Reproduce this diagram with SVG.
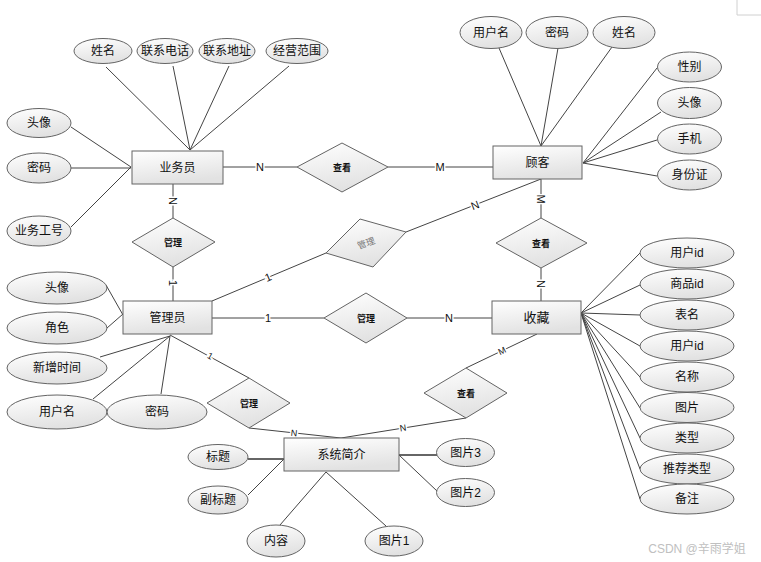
<svg xmlns="http://www.w3.org/2000/svg" width="761" height="562" viewBox="0 0 761 562">
<defs>
<linearGradient id="g" x1="0" y1="0" x2="0.3" y2="1">
<stop offset="0" stop-color="#ffffff"/>
<stop offset="1" stop-color="#e2e2e2"/>
</linearGradient>
</defs>
<style>
.sh{fill:url(#g);stroke:#646464;stroke-width:1}
.ln{stroke:#444;stroke-width:1;fill:none}
.t{font-family:"Liberation Sans","Noto Sans CJK SC",sans-serif;font-size:12px;fill:#111;text-anchor:middle;dominant-baseline:central}
.d{font-family:"Noto Sans CJK SC",sans-serif;font-size:9px;font-weight:bold;fill:#111;text-anchor:middle;dominant-baseline:central}
.c{font-family:"Liberation Sans",sans-serif;font-size:11px;fill:#111;text-anchor:middle;dominant-baseline:central;stroke:#fff;stroke-width:3;paint-order:stroke}
</style>
<rect width="761" height="562" fill="#fff"/>
<path d="M737,0V15H761" fill="none" stroke="#d0d0d0"/>
<g id="connectors">
<path class="ln" d="M106,67L190,150M173,66L190,150M229,66L190,150M289,66L190,150"/>
<path class="ln" d="M71,127L131,167M71,168H131M71,227L131,167"/>
<path class="ln" d="M499,48L541,146M558,48L541,146M612,47L541,146"/>
<path class="ln" d="M657,68L583,163M661,112L583,163M657,140L583,163M657,176L583,163"/>
<path class="ln" d="M106,285L123,315M107,328L123,314M100,357L170,336M93,399L170,336M161,394L170,336"/>
<path class="ln" d="M640,253L581,313M640,285L581,313M640,315L581,313M640,346L581,313M640,377L581,313M640,408L581,313M640,438L581,313M640,469L581,313M640,499L581,313"/>
<path d="M248,459H284M399,455H437" stroke="#666" stroke-width="2" fill="none"/>
<path class="ln" d="M248,495L284,459M280,525L326,472M386,526L326,472M437,491L399,455"/>
<path class="ln" d="M223,167H297M388,167H493"/>
<path class="ln" d="M173,184V218M173,267V301"/>
<path class="ln" d="M212,301L326,253M406,232L541,179"/>
<path class="ln" d="M541,179V218M541,268V301"/>
<path class="ln" d="M212,318H324M407,318H492"/>
<path class="ln" d="M537,334L466,368M466,418L341,438"/>
<path class="ln" d="M170,335L249,378M249,428L341,438"/>
<text class="c" x="260" y="167">N</text>
<text class="c" x="440" y="167">M</text>
<text class="c" transform="translate(173,201) rotate(90)">N</text>
<text class="c" transform="translate(173,283) rotate(90)">1</text>
<text class="c" transform="translate(268,277) rotate(-23)">1</text>
<text class="c" transform="translate(475,205) rotate(-21)">N</text>
<text class="c" transform="translate(541,199) rotate(90)">M</text>
<text class="c" transform="translate(541,284) rotate(90)">N</text>
<text class="c" x="268" y="318">1</text>
<text class="c" x="449" y="318">N</text>
<text class="c" transform="translate(502,351) rotate(-26)" style="font-size:9px">M</text>
<text class="c" transform="translate(403,428) rotate(-9)" style="font-size:9px">N</text>
<text class="c" transform="translate(210,356) rotate(28)" style="font-size:9px">1</text>
<text class="c" transform="translate(294,433) rotate(6)" style="font-size:9px">N</text>
</g>
<g id="yewuyuan"><rect class="sh" x="132" y="151" width="91" height="33"/><text class="t" x="177.5" y="167.5">业务员</text></g>
<g id="guke"><rect class="sh" x="493" y="146" width="89" height="33"/><text class="t" x="537.5" y="162.5">顾客</text></g>
<g id="guanliyuan"><rect class="sh" x="123" y="301" width="89" height="33"/><text class="t" x="167.5" y="317.5">管理员</text></g>
<g id="shoucang"><rect class="sh" x="492" y="301" width="89" height="33"/><text class="t" x="536.5" y="317.5" style="font-size:13px">收藏</text></g>
<g id="xitongjianjie"><rect class="sh" x="284" y="438" width="115" height="33"/><text class="t" x="341.5" y="454.5">系统简介</text></g>
<g id="r-chakan1"><polygon class="sh" points="297,167 342,143 388,167 342,192"/><text class="d" x="342" y="167">查看</text></g>
<g id="r-guanli1"><polygon class="sh" points="132,242 173,218 215,242 173,267"/><text class="d" x="173" y="242">管理</text></g>
<g id="r-guanli2"><polygon class="sh" points="326,253 360,219 406,232 373,267"/><text class="d" style="font-weight:normal;fill:#777" transform="translate(366,243) rotate(-20)">管理</text></g>
<g id="r-chakan2"><polygon class="sh" points="496,243 541,218 587,243 541,268"/><text class="d" x="541" y="243">查看</text></g>
<g id="r-guanli3"><polygon class="sh" points="324,318 366,293 407,318 366,343"/><text class="d" x="366" y="318">管理</text></g>
<g id="r-chakan3"><polygon class="sh" points="424,393 466,368 507,393 466,418"/><text class="d" x="466" y="393">查看</text></g>
<g id="r-guanli4"><polygon class="sh" points="207,403 249,378 290,403 249,428"/><text class="d" x="249" y="403">管理</text></g>
<g id="a1"><ellipse class="sh" cx="103" cy="51" rx="29" ry="12.5"/><text class="t" x="103" y="51">姓名</text></g>
<g id="a2"><ellipse class="sh" cx="165" cy="51" rx="28" ry="12.5"/><text class="t" x="165" y="51">联系电话</text></g>
<g id="a3"><ellipse class="sh" cx="227" cy="51" rx="28" ry="12.5"/><text class="t" x="227" y="51">联系地址</text></g>
<g id="a4"><ellipse class="sh" cx="297" cy="51" rx="31" ry="12.5"/><text class="t" x="297" y="51">经营范围</text></g>
<g id="a5"><ellipse class="sh" cx="39" cy="123" rx="32" ry="14.5"/><text class="t" x="39" y="123">头像</text></g>
<g id="a6"><ellipse class="sh" cx="39" cy="168" rx="32" ry="15"/><text class="t" x="39" y="168">密码</text></g>
<g id="a7"><ellipse class="sh" cx="39" cy="231" rx="32" ry="15"/><text class="t" x="39" y="231">业务工号</text></g>
<g id="b1"><ellipse class="sh" cx="491" cy="32.5" rx="31" ry="16"/><text class="t" x="491" y="32.5">用户名</text></g>
<g id="b2"><ellipse class="sh" cx="557" cy="32.5" rx="31" ry="16"/><text class="t" x="557" y="32.5">密码</text></g>
<g id="b3"><ellipse class="sh" cx="624" cy="32.5" rx="31" ry="16"/><text class="t" x="624" y="32.5">姓名</text></g>
<g id="b4"><ellipse class="sh" cx="689.5" cy="67" rx="32" ry="15"/><text class="t" x="689.5" y="67">性别</text></g>
<g id="b5"><ellipse class="sh" cx="689.5" cy="103" rx="32" ry="15.5"/><text class="t" x="689.5" y="103">头像</text></g>
<g id="b6"><ellipse class="sh" cx="689.5" cy="139" rx="32" ry="15"/><text class="t" x="689.5" y="139">手机</text></g>
<g id="b7"><ellipse class="sh" cx="689.5" cy="175" rx="32" ry="15"/><text class="t" x="689.5" y="175">身份证</text></g>
<g id="c1"><ellipse class="sh" cx="57" cy="288" rx="50" ry="16"/><text class="t" x="57" y="288">头像</text></g>
<g id="c2"><ellipse class="sh" cx="57" cy="328" rx="50" ry="16"/><text class="t" x="57" y="328">角色</text></g>
<g id="c3"><ellipse class="sh" cx="57" cy="368" rx="50" ry="16"/><text class="t" x="57" y="368">新增时间</text></g>
<g id="c4"><ellipse class="sh" cx="57" cy="412" rx="50" ry="17"/><text class="t" x="57" y="412">用户名</text></g>
<g id="c5"><ellipse class="sh" cx="157" cy="412" rx="50" ry="17"/><text class="t" x="157" y="412">密码</text></g>
<g id="d1"><ellipse class="sh" cx="687" cy="253" rx="47" ry="15"/><text class="t" x="687" y="253">用户id</text></g>
<g id="d2"><ellipse class="sh" cx="687" cy="284" rx="47" ry="15"/><text class="t" x="687" y="284">商品id</text></g>
<g id="d3"><ellipse class="sh" cx="687" cy="315" rx="47" ry="15"/><text class="t" x="687" y="315">表名</text></g>
<g id="d4"><ellipse class="sh" cx="687" cy="346" rx="47" ry="15"/><text class="t" x="687" y="346">用户id</text></g>
<g id="d5"><ellipse class="sh" cx="687" cy="377" rx="47" ry="15"/><text class="t" x="687" y="377">名称</text></g>
<g id="d6"><ellipse class="sh" cx="687" cy="407.5" rx="47" ry="15"/><text class="t" x="687" y="407.5">图片</text></g>
<g id="d7"><ellipse class="sh" cx="687" cy="438" rx="47" ry="15"/><text class="t" x="687" y="438">类型</text></g>
<g id="d8"><ellipse class="sh" cx="687" cy="469" rx="47" ry="15"/><text class="t" x="687" y="469">推荐类型</text></g>
<g id="d9"><ellipse class="sh" cx="687" cy="499" rx="47" ry="15"/><text class="t" x="687" y="499">备注</text></g>
<g id="e1"><ellipse class="sh" cx="218" cy="457" rx="30" ry="12.5"/><text class="t" x="218" y="457">标题</text></g>
<g id="e2"><ellipse class="sh" cx="218" cy="500" rx="30" ry="14"/><text class="t" x="218" y="500">副标题</text></g>
<g id="e3"><ellipse class="sh" cx="276" cy="541" rx="29" ry="16"/><text class="t" x="276" y="541">内容</text></g>
<g id="e4"><ellipse class="sh" cx="394" cy="541" rx="29" ry="15"/><text class="t" x="394" y="541">图片1</text></g>
<g id="e5"><ellipse class="sh" cx="465.5" cy="452.5" rx="29" ry="14"/><text class="t" x="465.5" y="452.5">图片3</text></g>
<g id="e6"><ellipse class="sh" cx="465.5" cy="492.5" rx="29" ry="14"/><text class="t" x="465.5" y="492.5">图片2</text></g>
<text x="697" y="549" style="font-family:'Liberation Sans','Noto Sans CJK SC',sans-serif;font-size:12px;fill:#c0c0c0;text-anchor:middle;dominant-baseline:central">CSDN @辛雨学姐</text>
</svg>
